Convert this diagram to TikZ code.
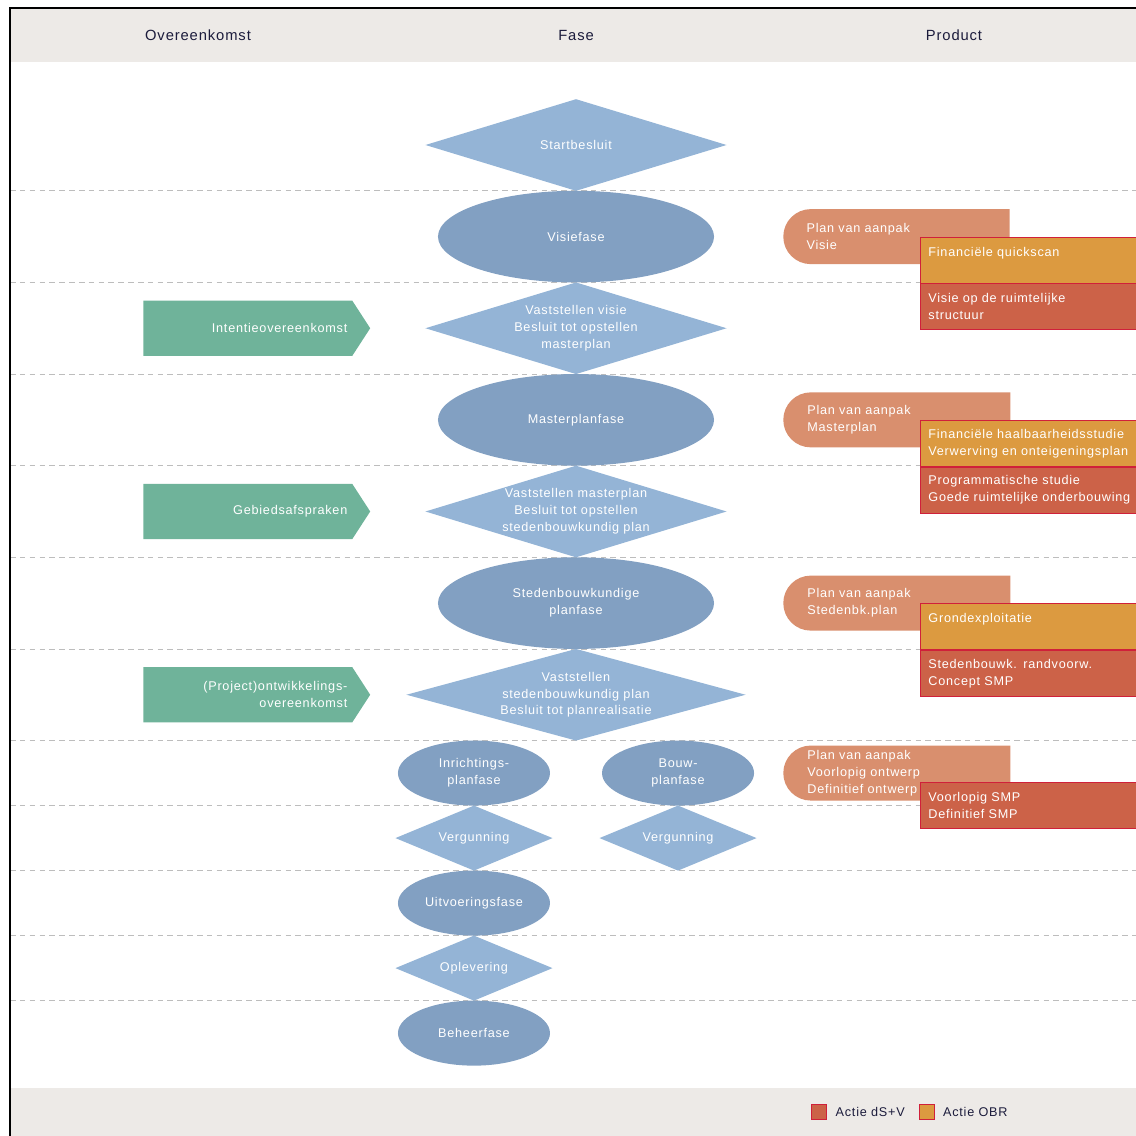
\documentclass[tikz,border=0pt]{standalone}
\usepackage{fontspec}
\setmainfont{Liberation Sans}[LetterSpace=6]
\usetikzlibrary{positioning, shapes.geometric, shapes.symbols, shapes.misc, backgrounds}

\definecolor{ruitblauw}{HTML}{94B4D6}
\definecolor{fasblauw}{HTML}{82A0C2}
\definecolor{afsprgroen}{HTML}{6FB39A}
\definecolor{aanpakzalm}{HTML}{D98F6E}
\definecolor{obroranje}{HTML}{DC9A40}
\definecolor{dsvrood}{HTML}{CC6248}
\definecolor{randrood}{HTML}{D0203A}
\definecolor{bandgrijs}{HTML}{EDEAE7}
\definecolor{kopinkt}{HTML}{1C1C3C}
\definecolor{lijngrijs}{HTML}{BDBDBD}

\tikzset{
	ruit/.style={diamond, fill=ruitblauw, minimum width=7.525cm, minimum height=2.29cm, inner sep=0pt, outer sep=0pt},
	ruitklein/.style={ruit, minimum width=3.925cm, minimum height=1.625cm},
	fase/.style={ellipse, fill=fasblauw, minimum width=6.9cm, minimum height=2.29cm, inner sep=0pt, outer sep=0pt, text=white, align=center, font=\fontsize{9}{12}\selectfont},
	faseklein/.style={fase, minimum width=3.8cm, minimum height=1.625cm},
	fasetekst/.style={text=white, align=center, font=\fontsize{9}{12}\selectfont},
	afspraak/.style={signal, signal to=east, signal pointer angle=114, fill=afsprgroen, minimum height=1.375cm, text width=4.975cm, inner xsep=0.125cm, inner ysep=0pt, align=right, text=white, font=\fontsize{9}{12}\selectfont, anchor=west},
	aanpak/.style={rounded rectangle, rounded rectangle right arc=none, fill=aanpakzalm, minimum height=1.375cm, text width=4.575cm, inner xsep=0.5cm, inner ysep=0pt, align=left, text=white, font=\fontsize{9}{12}\selectfont, anchor=west},
	vak/.style={rectangle, draw=randrood, line width=0.6pt, minimum height=1.15cm, text width=5.6cm, inner xsep=0.2cm, inner ysep=0pt, align=left, text=white, font=\fontsize{9}{12}\selectfont},
	obrvak/.style={vak, fill=obroranje},
	dsvvak/.style={vak, fill=dsvrood},
	koptekst/.style={text=kopinkt, font=\fontsize{10.5}{13}\selectfont},
	legvak/.style={rectangle, draw=randrood, line width=0.6pt, minimum size=0.375cm, inner sep=0pt},
	legtekst/.style={text=kopinkt, inner sep=0pt, font=\fontsize{9}{12}\selectfont},
	scheiding/.style={draw=lijngrijs, line width=0.6pt, dash pattern=on 4pt off 3pt}
}

\begin{document}
\begin{tikzpicture}[x=0.025cm, y=-0.025cm]
	\useasboundingbox (0,0) rectangle (1136,1136);
	\fill[bandgrijs] (10,8) rectangle (1150,62);
	\fill[bandgrijs] (10,1088) rectangle (1150,1150);
	\draw[line width=1.4pt] (1150,8) -- (10,8) -- (10,1150);

	\coordinate (links) at (10,0);
	\coordinate (rechts) at (1136,0);
	\coordinate (afsprx) at (143,0);
	\coordinate (aanpakx) at (783,0);
	\coordinate (vakx) at (920,0);

	\node[koptekst] (kop1) at (198,35) {Overeenkomst};
	\node[koptekst] (kop2) at (576,35) {Fase};
	\node[koptekst] (kop3) at (954,35) {Product};

	\node[ruit] (start) at (576,145) {};
	\node[fasetekst] (start-t) at (start) {Startbesluit};
	\node[fase, below=0pt of start] (vis1) {Visiefase};
	\node[ruit, below=0pt of vis1] (vst1) {};
	\node[fasetekst] (vst1-t) at (vst1) {Vaststellen visie\\Besluit tot opstellen\\masterplan};
	\node[fase, below=0pt of vst1] (mp) {Masterplanfase};
	\node[ruit, below=0pt of mp] (vst2) {};
	\node[fasetekst] (vst2-t) at (vst2) {Vaststellen masterplan\\Besluit tot opstellen\\stedenbouwkundig plan};
	\node[fase, below=0pt of vst2] (sb) {Stedenbouwkundige\\planfase};
	\node[ruit, below=0pt of sb, minimum width=8.475cm] (vst3) {};
	\node[fasetekst] (vst3-t) at (vst3) {Vaststellen\\stedenbouwkundig plan\\Besluit tot planrealisatie};

	\node[faseklein, below=0pt of vst3, xshift=-2.55cm] (inr) {Inrichtings-\\planfase};
	\node[faseklein, below=0pt of vst3, xshift=2.55cm] (bouw) {Bouw-\\planfase};
	\node[ruitklein, below=0pt of inr] (verg1) {};
	\node[fasetekst] (verg1-t) at (verg1) {Vergunning};
	\node[ruitklein, below=0pt of bouw] (verg2) {};
	\node[fasetekst] (verg2-t) at (verg2) {Vergunning};
	\node[faseklein, below=0pt of verg1] (uitv) {Uitvoeringsfase};
	\node[ruitklein, below=0pt of uitv] (opl) {};
	\node[fasetekst] (opl-t) at (opl) {Oplevering};
	\node[faseklein, below=0pt of opl] (beh) {Beheerfase};

	\node[afspraak] (io) at (vst1 -| afsprx) {Intentieovereenkomst};
	\node[afspraak] (ga) at (vst2 -| afsprx) {Gebiedsafspraken};
	\node[afspraak] (poo) at (vst3 -| afsprx) {(Project)ontwikkelings-\\overeenkomst};

	\node[aanpak] (pva1) at (vis1 -| aanpakx) {Plan van aanpak\\Visie};
	\node[obrvak, anchor=north west] (obr1) at (pva1.center -| vakx) {Financiële quickscan\\\mbox{}};
	\node[dsvvak, below=0pt of obr1] (dsv1) {Visie op de ruimtelijke\\structuur};

	\node[aanpak] (pva2) at (mp -| aanpakx) {Plan van aanpak\\Masterplan};
	\node[obrvak, anchor=north west] (obr2) at (pva2.center -| vakx) {Financiële haalbaarheidsstudie\\Verwerving en onteigeningsplan};
	\node[dsvvak, below=0pt of obr2] (dsv2) {Programmatische studie\\Goede ruimtelijke onderbouwing};

	\node[aanpak] (pva3) at (sb -| aanpakx) {Plan van aanpak\\Stedenbk.plan};
	\node[obrvak, anchor=north west] (obr3) at (pva3.center -| vakx) {Grondexploitatie\\\mbox{}};
	\node[dsvvak, below=0pt of obr3] (dsv3) {Stedenbouwk. randvoorw.\\Concept SMP};

	\node[aanpak, inner xsep=0.3cm, text width=4.775cm] (pva4) at (bouw -| aanpakx) {Plan van aanpak\\Voorlopig ontwerp\\Definitief ontwerp};
	\node[dsvvak, anchor=north west, yshift=-0.225cm] (dsv4) at (pva4.center -| vakx) {Voorlopig SMP\\Definitief SMP};

	\node[legvak, fill=dsvrood] (leg1) at (818.5,1111.5) {};
	\node[legtekst, right=0.225cm of leg1] (leg1-t) {Actie dS+V};
	\node[legvak, fill=obroranje, right=0.35cm of leg1-t] (leg2) {};
	\node[legtekst, right=0.2cm of leg2] (leg2-t) {Actie OBR};

	\begin{scope}[on background layer]
		\foreach \n in {start,vis1,vst1,mp,vst2,sb,vst3,inr,verg1,uitv,opl}
			\draw[scheiding] (\n.south -| links) -- (\n.south -| rechts);
	\end{scope}
\end{tikzpicture}
\end{document}
